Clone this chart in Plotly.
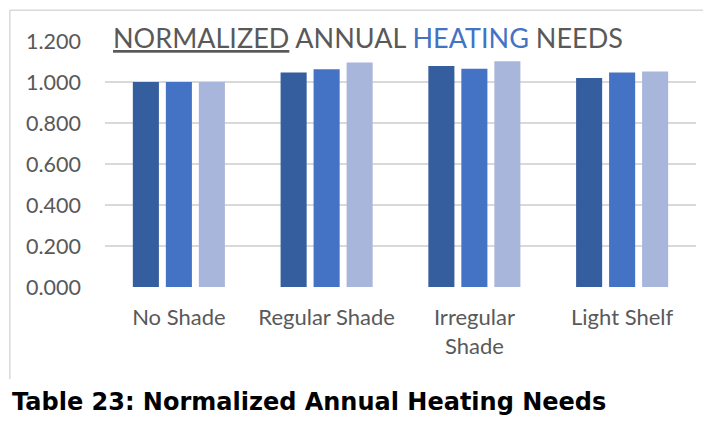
import plotly.graph_objects as go

# data
categories = ["No Shade", "Regular Shade", "Irregular Shade", "Light Shelf"]
tick_labels = ["No Shade", "Regular Shade", "Irregular<br>Shade", "Light Shelf"]
series_names = ["Series 1", "Series 2", "Series 3"]
series_1 = [1.000, 1.046, 1.078, 1.020]
series_2 = [1.000, 1.062, 1.065, 1.046]
series_3 = [1.000, 1.095, 1.101, 1.051]
y_ticks = [0.0, 0.2, 0.4, 0.6, 0.8, 1.0, 1.2]

colors = ["#355E9F", "#4472C4", "#A9B6DB"]
grey_text = "#595959"
grid = "#D9D9D9"

fig = go.Figure()
for name, vals, col in zip(series_names, [series_1, series_2, series_3], colors):
    fig.add_trace(go.Bar(
        x=categories,
        y=vals,
        name=name,
        marker={"color": col, "line": {"width": 0}},
        showlegend=False,
    ))

# page body has an 8px margin, so the figure is 8px smaller than the window
fig.update_layout(
    width=703,
    height=422,
    plot_bgcolor="white",
    paper_bgcolor="white",
    barmode="group",
    bargap=0.33,
    bargroupgap=0.21,
    margin={"l": 97, "r": 15, "t": 33, "b": 143},
    font={"family": "Lato", "color": grey_text},
)

fig.update_xaxes(
    tickvals=categories,
    ticktext=tick_labels,
    showgrid=False,
    showline=False,
    zeroline=False,
    tickfont={"size": 22, "color": grey_text},
    ticklabelstandoff=15,
)
fig.update_yaxes(
    range=[0, 1.2],
    tickvals=y_ticks,
    tickformat=".3f",
    showgrid=True,
    gridcolor=grid,
    gridwidth=1.5,
    zeroline=False,
    showline=False,
    tickfont={"size": 21.5, "color": grey_text},
    ticklabelstandoff=23,
)

# chart-area frame (left and top edges)
fig.add_shape(type="line", xref="paper", yref="paper",
              x0=-0.161, x1=1.1, y0=1.125, y1=1.125,
              line={"color": grid, "width": 1.5})
fig.add_shape(type="line", xref="paper", yref="paper",
              x0=-0.161, x1=-0.161, y0=1.125, y1=-0.375,
              line={"color": grid, "width": 1.5})

# title with underlined and coloured words
fig.add_annotation(
    xref="paper", yref="paper", x=0.445, y=1.015,
    xanchor="center", yanchor="middle", showarrow=False,
    text="<u>NORMALIZED</u> ANNUAL <span style='color:#4472C4'>HEATING</span> NEEDS",
    font={"family": "Lato", "size": 27, "color": grey_text},
)

# caption underneath the chart
fig.add_annotation(
    xref="paper", yref="paper", x=-0.161, y=-0.467,
    xanchor="left", yanchor="middle", showarrow=False,
    text="<b>Table 23: Normalized Annual Heating Needs</b>",
    font={"family": "DejaVu Sans", "size": 24, "color": "black"},
)

fig.write_html("out.html")
